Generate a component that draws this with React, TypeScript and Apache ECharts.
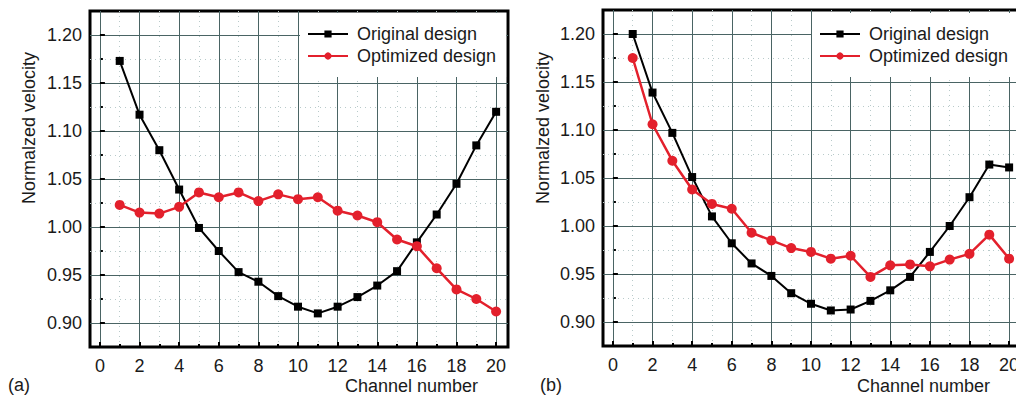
import React, { useEffect, useRef } from "react";
import * as echarts from "echarts";

const channels = [1, 2, 3, 4, 5, 6, 7, 8, 9, 10, 11, 12, 13, 14, 15, 16, 17, 18, 19, 20];
const originalA = [1.173, 1.117, 1.08, 1.039, 0.999, 0.975, 0.953, 0.943, 0.928, 0.917, 0.91, 0.917, 0.927, 0.939, 0.954, 0.984, 1.013, 1.045, 1.085, 1.12];
const optimizedA = [1.023, 1.015, 1.014, 1.021, 1.036, 1.031, 1.036, 1.027, 1.034, 1.029, 1.031, 1.017, 1.012, 1.005, 0.987, 0.98, 0.957, 0.935, 0.925, 0.912];
const originalB = [1.2, 1.139, 1.097, 1.051, 1.01, 0.982, 0.961, 0.948, 0.93, 0.919, 0.912, 0.913, 0.922, 0.933, 0.947, 0.973, 1.0, 1.03, 1.064, 1.061];
const optimizedB = [1.175, 1.106, 1.068, 1.038, 1.023, 1.018, 0.993, 0.985, 0.977, 0.973, 0.966, 0.969, 0.947, 0.959, 0.96, 0.958, 0.965, 0.971, 0.991, 0.966];
const xMajorTicks = [0, 2, 4, 6, 8, 10, 12, 14, 16, 18, 20];
const xMinorTicks = [1, 3, 5, 7, 9, 11, 13, 15, 17, 19];
const yMajorTicks = [0.9, 0.95, 1.0, 1.05, 1.1, 1.15, 1.2];
const yMinorTicks = [0.925, 0.975, 1.025, 1.075, 1.125, 1.175];
const seriesNames = ["Original design", "Optimized design"];
const panelLabels = ["(a)", "(b)"];
const xTitle = "Channel number";
const yTitle = "Normalzed velocity";

const FONT = "'Liberation Sans', Arial, sans-serif";
const MAJOR = "#4a6464";
const MINOR = "#b8caca";
const RED = "#e3202c";

export default function App() {
  const ref = useRef<HTMLDivElement>(null);
  useEffect(() => {
    if (!ref.current) return;
    const chart = echarts.init(ref.current, null, { renderer: "svg" });
    const panels = [
      { left: 90, top: 11, orig: originalA, opt: optimizedA, legendLeft: 300, label: panelLabels[0], labelX: 8, xTitleRight: 478, yTitleX: 29 },
      { left: 603, top: 10, orig: originalB, opt: optimizedB, legendLeft: 812, label: panelLabels[1], labelX: 540, xTitleRight: 990, yTitleX: 543 },
    ];
    const grid: any[] = [];
    const xAxis: any[] = [];
    const yAxis: any[] = [];
    const series: any[] = [];
    const legend: any[] = [];
    const graphic: any[] = [];
    panels.forEach((p, pi) => {
      const gMinor = pi * 2;
      const gMajor = pi * 2 + 1;
      grid.push({ left: p.left, width: 418, top: p.top, height: 336, show: false, containLabel: false, outerBoundsMode: "none" });
      grid.push({ left: p.left, width: 418, top: p.top, height: 336, show: true, borderColor: "#000", borderWidth: 3, backgroundColor: "transparent", containLabel: false, outerBoundsMode: "none" });
      xAxis.push({
        type: "value", gridIndex: gMinor, min: -0.5, max: 20.6, z: 0,
        axisLine: { show: false },
        axisLabel: { show: false, customValues: xMinorTicks },
        axisTick: { show: true, inside: true, length: 3, customValues: xMinorTicks, lineStyle: { color: "#000", width: 2 } },
        splitLine: { show: true, lineStyle: { color: MINOR, width: 1, type: [1, 4] } },
      });
      yAxis.push({
        type: "value", gridIndex: gMinor, min: 0.875, max: 1.225, z: 0,
        axisLine: { show: false },
        axisLabel: { show: false, customValues: yMinorTicks },
        axisTick: { show: true, inside: true, length: 3, customValues: yMinorTicks, lineStyle: { color: "#000", width: 2 } },
        splitLine: { show: true, lineStyle: { color: MINOR, width: 1, type: [1, 4] } },
      });
      xAxis.push({
        type: "value", gridIndex: gMajor, min: -0.5, max: 20.6, z: 1,
        axisLine: { show: false },
        axisLabel: { show: true, customValues: xMajorTicks, margin: 10, fontSize: 18, fontFamily: FONT, color: "#1a1a1a", hideOverlap: false },
        axisTick: { show: true, inside: true, length: 5, customValues: xMajorTicks, lineStyle: { color: "#000", width: 2 } },
        splitLine: { show: true, lineStyle: { color: MAJOR, width: 1 } },
      });
      yAxis.push({
        type: "value", gridIndex: gMajor, min: 0.875, max: 1.225, z: 1,
        axisLine: { show: false },
        axisLabel: { show: true, customValues: yMajorTicks, margin: 8, fontSize: 18, fontFamily: FONT, color: "#1a1a1a", formatter: (v: number) => v.toFixed(2) },
        axisTick: { show: true, inside: true, length: 5, customValues: yMajorTicks, lineStyle: { color: "#000", width: 2 } },
        splitLine: { show: true, lineStyle: { color: MAJOR, width: 1 } },
      });
      series.push({
        name: seriesNames[0], type: "line", xAxisIndex: gMajor, yAxisIndex: gMajor,
        data: channels.map((c, i) => [c, p.orig[i]]),
        symbol: "rect", symbolSize: 8,
        itemStyle: { color: "#000" }, lineStyle: { color: "#000", width: 2 }, z: 3,
      });
      series.push({
        name: seriesNames[1], type: "line", xAxisIndex: gMajor, yAxisIndex: gMajor,
        data: channels.map((c, i) => [c, p.opt[i]]),
        symbol: "circle", symbolSize: 10,
        itemStyle: { color: RED }, lineStyle: { color: RED, width: 2.5 }, z: 4,
      });
      legend.push({
        left: p.legendLeft, top: 13, orient: "vertical",
        itemWidth: 40, itemHeight: 9, itemGap: 4,
        backgroundColor: "#fff", padding: [12, 10, 12, 7],
        selectedMode: false,
        textStyle: { fontSize: 18, fontFamily: FONT, color: "#1a1a1a", padding: [0, 0, 0, 4] },
        data: seriesNames,
      });
      graphic.push({ type: "text", x: p.labelX, y: 385, style: { text: p.label, fontSize: 18, fontFamily: FONT, fill: "#1a1a1a", textVerticalAlign: "middle" } });
      graphic.push({ type: "text", x: p.xTitleRight, y: 386, style: { text: xTitle, fontSize: 18, fontFamily: FONT, fill: "#1a1a1a", textAlign: "right", textVerticalAlign: "middle" } });
      graphic.push({ type: "text", x: p.yTitleX, y: 128, rotation: Math.PI / 2, style: { text: yTitle, fontSize: 18, fontFamily: FONT, fill: "#1a1a1a", textAlign: "center", textVerticalAlign: "middle" } });
    });
    chart.setOption({ animation: false, backgroundColor: "#fff", grid, xAxis, yAxis, series, legend, graphic });
    return () => chart.dispose();
  }, []);
  return <div ref={ref} style={{ position: "fixed", left: 0, top: 0, width: 1016, height: 397 }} />;
}
